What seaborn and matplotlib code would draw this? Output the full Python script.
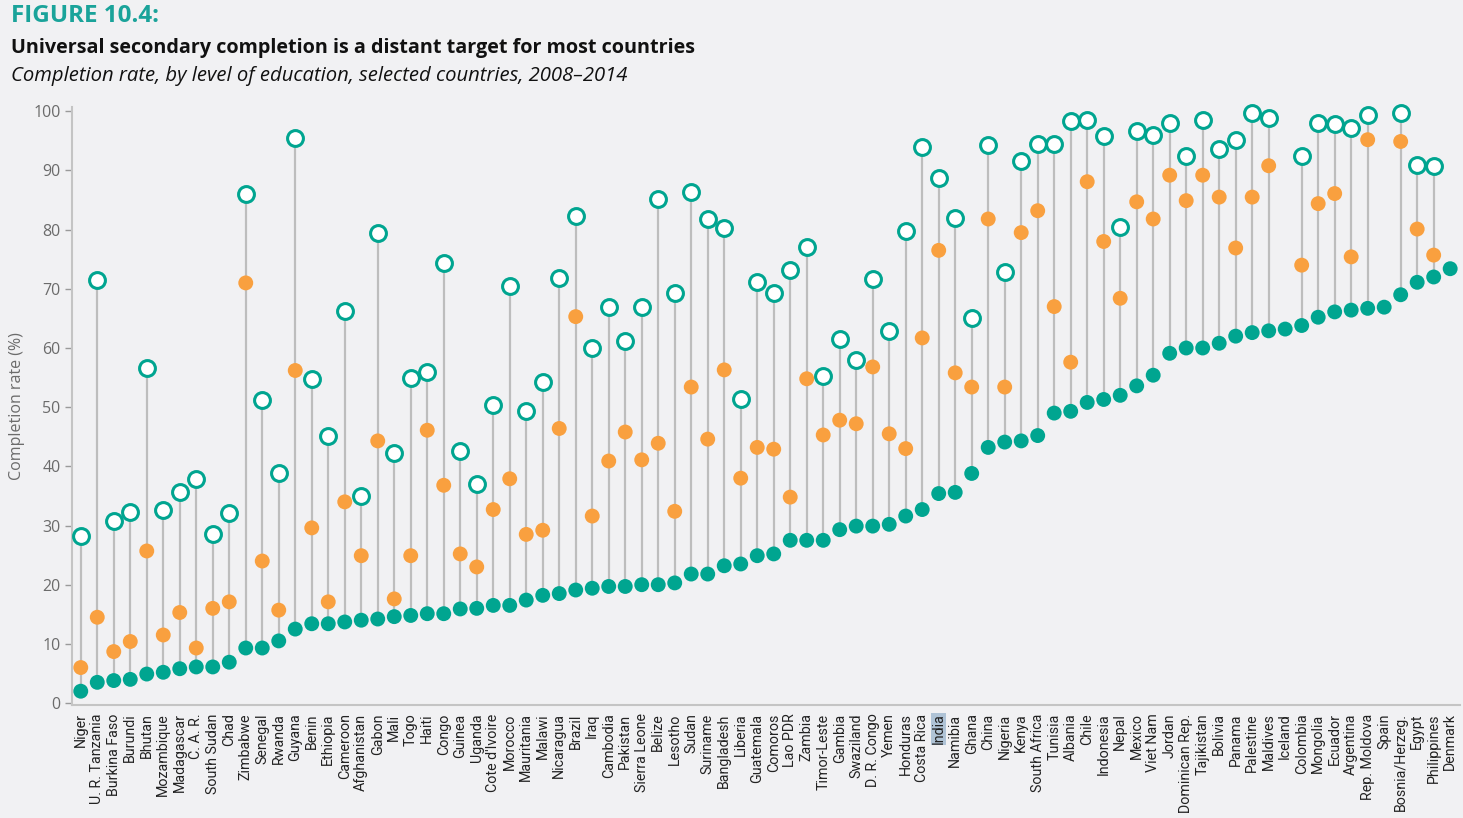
import numpy as np
import pandas as pd
import matplotlib
matplotlib.use("Agg")
import matplotlib.pyplot as plt
import seaborn as sns

# === DATA ===
countries = [
    "Niger", "U. R. Tanzania", "Burkina Faso", "Burundi", "Bhutan", "Mozambique",
    "Madagascar", "C. A. R.", "South Sudan", "Chad", "Zimbabwe", "Senegal", "Rwanda",
    "Guyana", "Benin", "Ethiopia", "Cameroon", "Afghanistan", "Gabon", "Mali", "Togo",
    "Haiti", "Congo", "Guinea", "Uganda", "Cote d'Ivoire", "Morocco", "Mauritania",
    "Malawi", "Nicaragua", "Brazil", "Iraq", "Cambodia", "Pakistan", "Sierra Leone",
    "Belize", "Lesotho", "Sudan", "Suriname", "Bangladesh", "Liberia", "Guatemala",
    "Comoros", "Lao PDR", "Zambia", "Timor-Leste", "Gambia", "Swaziland", "D. R. Congo",
    "Yemen", "Honduras", "Costa Rica", "India", "Namibia", "Ghana", "China", "Nigeria",
    "Kenya", "South Africa", "Tunisia", "Albania", "Chile", "Indonesia", "Nepal",
    "Mexico", "Viet Nam", "Jordan", "Dominican Rep.", "Tajikistan", "Bolivia", "Panama",
    "Palestine", "Maldives", "Iceland", "Colombia", "Mongolia", "Ecuador", "Argentina",
    "Rep. Moldova", "Spain", "Bosnia/Herzeg.", "Egypt", "Philippines", "Denmark",
]

nan = np.nan
primary = [
    28.3, 71.5, 30.7, 32.3, 56.7, 32.6, 35.6, 37.9, 28.6, 32.1, 86.0, 51.2, 38.8,
    95.5, 54.8, 45.2, 66.3, 35.0, 79.5, 42.2, 55.0, 55.9, 74.4, 42.6, 37.0, 50.3,
    70.4, 49.3, 54.2, 71.9, 82.3, 60.0, 66.9, 61.1, 66.9, 85.2, 69.3, 86.4, 81.8,
    80.3, 51.3, 71.1, 69.3, 73.1, 77.1, 55.3, 61.5, 58.0, 71.6, 62.9, 79.8, 94.0,
    88.8, 82.0, 65.0, 94.3, 72.8, 91.6, 94.5, 94.5, 98.3, 98.6, 95.8, 80.4, 96.6,
    96.0, 98.0, 92.5, 98.6, 93.7, 95.1, 99.7, 98.9, nan, 92.5, 98.0, 97.8, 97.2,
    99.4, nan, 99.7, 91.0, 90.7, nan,
]
lower_secondary = [
    6.0, 14.5, 8.7, 10.4, 25.7, 11.5, 15.3, 9.3, 16.0, 17.1, 71.0, 24.0, 15.7,
    56.2, 29.6, 17.1, 34.0, 24.9, 44.3, 17.6, 24.9, 46.1, 36.8, 25.2, 23.0, 32.7,
    37.9, 28.5, 29.2, 46.4, 65.3, 31.6, 40.9, 45.8, 41.1, 43.9, 32.4, 53.4, 44.6,
    56.3, 38.0, 43.2, 42.9, 34.8, 54.8, 45.3, 47.8, 47.2, 56.8, 45.5, 43.0, 61.7,
    76.5, 55.8, 53.4, 81.8, 53.4, 79.5, 83.2, 67.0, 57.6, 88.1, 78.0, 68.4, 84.7,
    81.8, 89.2, 84.9, 89.2, 85.5, 76.9, 85.5, 90.8, nan, 74.0, 84.4, 86.1, 75.4,
    95.2, nan, 94.9, 80.1, 75.7, nan,
]
upper_secondary = [
    2.0, 3.5, 3.8, 4.0, 4.9, 5.2, 5.8, 6.1, 6.1, 6.9, 9.3, 9.3, 10.5,
    12.5, 13.4, 13.4, 13.7, 14.0, 14.2, 14.6, 14.8, 15.1, 15.1, 15.9, 16.0, 16.5,
    16.5, 17.4, 18.2, 18.5, 19.1, 19.4, 19.7, 19.7, 20.0, 20.0, 20.3, 21.8, 21.8,
    23.2, 23.5, 24.9, 25.2, 27.5, 27.5, 27.5, 29.3, 29.9, 29.9, 30.2, 31.6, 32.7,
    35.4, 35.6, 38.8, 43.2, 44.1, 44.3, 45.2, 49.0, 49.3, 50.8, 51.3, 52.0, 53.6,
    55.4, 59.1, 60.0, 60.0, 60.8, 62.0, 62.6, 62.9, 63.2, 63.8, 65.2, 66.1, 66.4,
    66.7, 66.9, 69.0, 71.1, 72.0, 73.4,
]

df = pd.DataFrame({
    "country": countries,
    "primary": primary,
    "lower": lower_secondary,
    "upper": upper_secondary,
})
df["pos"] = np.arange(len(df))

# === STYLE ===
bg = "#F1F1F3"
teal = "#00A590"
orange = "#F9A03F"
stem = "#BDBDBD"

sns.set_style("white", {"axes.facecolor": bg, "figure.facecolor": bg})
plt.rcParams["font.family"] = ["Open Sans", "DejaVu Sans"]

fig = plt.figure(figsize=(14.63, 8.18), dpi=100)
ax = fig.add_axes([0.049, 0.138, 0.949, 0.731])

# stems from the lowest to the highest point of each country
top = df[["primary", "lower", "upper"]].max(axis=1)
ax.vlines(df["pos"], df["upper"], top, color=stem, lw=1.6, zorder=1)

sns.scatterplot(data=df, x="pos", y="upper", ax=ax, color=teal, s=115,
                edgecolor="none", zorder=3, legend=False, clip_on=False)
sns.scatterplot(data=df, x="pos", y="lower", ax=ax, color=orange, s=115,
                edgecolor="none", zorder=3, legend=False, clip_on=False)
sns.scatterplot(data=df, x="pos", y="primary", ax=ax, color="white", s=130,
                edgecolor=teal, linewidth=2.2, zorder=4, legend=False, clip_on=False)

# === AXES ===
ax.set_xlim(-0.55, len(df) - 0.4)
ax.set_ylim(-0.35, 100.7)
ax.set_yticks(range(0, 101, 10))
ax.tick_params(axis="y", colors="#9a9a9a", labelcolor="#6b6b6b", labelsize=11.5,
               length=5, width=1, left=True, pad=3)
ax.set_xticks(df["pos"])
ax.set_xticklabels(df["country"], rotation=90, fontsize=10.3, color="#222222",
                   family=["Liberation Sans Narrow", "Roboto", "DejaVu Sans"])
ax.tick_params(axis="x", length=0, pad=6)
for lab in ax.get_xticklabels():
    if lab.get_text() == "India":
        lab.set_bbox(dict(facecolor="#AFC3D6", edgecolor="none", pad=0.5))

for side in ["top", "right"]:
    ax.spines[side].set_visible(False)
for side in ["left", "bottom"]:
    ax.spines[side].set_color("#C4C4C4")
    ax.spines[side].set_linewidth(1.5)

ax.set_xlabel("")
ax.set_ylabel("Completion rate (%)", color="#6b6b6b", fontsize=11.5, labelpad=6)

# === TITLES ===
fig.text(0.0075, 0.995, "FIGURE 10.4:", color="#1AA39A", fontsize=17.5,
         fontweight="bold", va="top", ha="left")
fig.text(0.0075, 0.954, "Universal secondary completion is a distant target for most countries",
         color="#111111", fontsize=14.2, fontweight="bold", va="top", ha="left")
fig.text(0.0075, 0.919, "Completion rate, by level of education, selected countries, 2008\u20132014",
         color="#111111", fontsize=14.6, style="italic", va="top", ha="left")

fig.savefig("out.png", dpi=100, facecolor=bg)
